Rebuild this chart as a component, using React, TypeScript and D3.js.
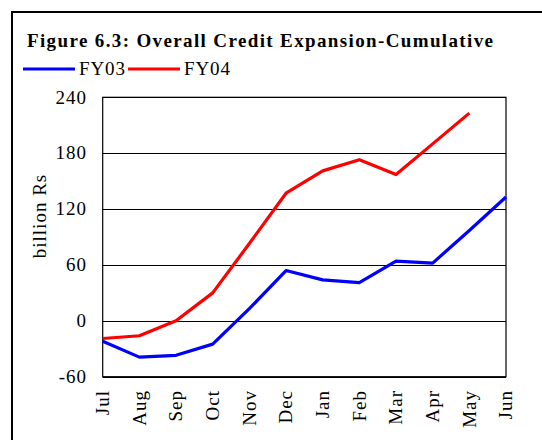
import React from "react";
import * as d3 from "d3";

const months = ["Jul", "Aug", "Sep", "Oct", "Nov", "Dec", "Jan", "Feb", "Mar", "Apr", "May", "Jun"];
const fy03 = [-22, -39, -37, -25, 13, 54, 44, 41, 64, 62, 97, 133];
const fy04 = [-19, -16, 0, 30, 83, 137, 161, 173, 157, 190, 223];
const yTicks = [-60, 0, 60, 120, 180, 240];
const seriesNames = ["FY03", "FY04"];
const seriesColors = ["#0000FF", "#FF0000"];

export default function App() {
  const W = 542, H = 440;
  const left = 102.7, right = 506, top = 97.3, bottom = 376.7;
  const x = d3.scalePoint<string>().domain(months).range([left, right]);
  const y = d3.scaleLinear().domain([-60, 240]).range([bottom, top]);
  const line = d3.line<number>().x((_, i) => x(months[i])!).y((d) => y(d));
  const font = "'Liberation Serif', 'Times New Roman', serif";
  const series = [fy03, fy04];
  return (
    <svg width={W} height={H} style={{ position: "absolute", left: 0, top: 0 }} fontFamily={font}>
      <rect x={0} y={0} width={W} height={H} fill="#fff" />
      <path d={`M12,${H + 5}V12H${W + 5}`} fill="none" stroke="#000" strokeWidth={2} />
      <text x={27} y={47} fontSize={19} fontWeight="bold" textLength={466} lengthAdjust="spacing">
        Figure 6.3: Overall Credit Expansion-Cumulative
      </text>
      {seriesNames.map((n, i) => (
        <g key={n}>
          <line x1={23 + i * 105} x2={75 + i * 105} y1={69} y2={69} stroke={seriesColors[i]} strokeWidth={3} />
          <text x={79 + i * 105} y={75} fontSize={19} textLength={46} lengthAdjust="spacing">{n}</text>
        </g>
      ))}
      {yTicks.map((t) => (
        <g key={t}>
          <line x1={left} x2={right} y1={Math.round(y(t)) + 0.5} y2={Math.round(y(t)) + 0.5} stroke="#000" strokeWidth={1} />
          <text x={87} y={y(t)} dy="0.33em" textAnchor="end" fontSize={19} letterSpacing={1}>{t}</text>
        </g>
      ))}
      <rect x={left} y={top} width={right - left} height={bottom - top} fill="none" stroke="#000" strokeWidth={1.2} />
      <text transform={`translate(46,216) rotate(-90)`} textAnchor="middle" fontSize={19} letterSpacing={1}>billion Rs</text>
      {months.map((m) => (
        <text key={m} transform={`translate(${x(m)},390) rotate(-90)`} textAnchor="end" dy="0.33em" fontSize={19} letterSpacing={1}>{m}</text>
      ))}
      {series.map((s, i) => (
        <path key={i} d={line(s)!} fill="none" stroke={seriesColors[i]} strokeWidth={3.2} strokeLinejoin="round" />
      ))}
    </svg>
  );
}
